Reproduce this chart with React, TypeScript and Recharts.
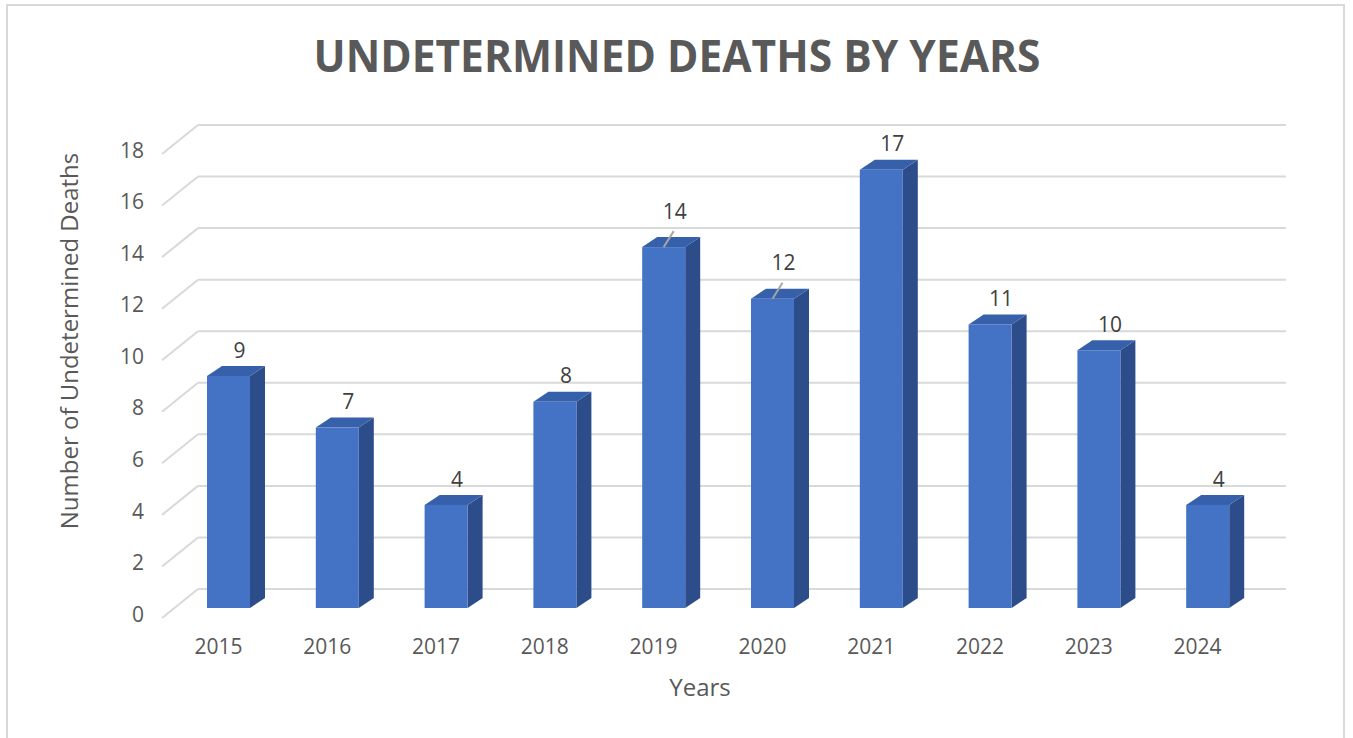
import { BarChart, Bar, XAxis, YAxis, CartesianGrid, LabelList } from "recharts";

const years = ["2015", "2016", "2017", "2018", "2019", "2020", "2021", "2022", "2023", "2024"];
const deaths = [9, 7, 4, 8, 14, 12, 17, 11, 10, 4];
const yTicks = [0, 2, 4, 6, 8, 10, 12, 14, 16, 18];
// labels that Excel pushed up and tied back with a leader line
const leaderYears = ["2019", "2020"];

const data = years.map((year, i) => ({ year, deaths: deaths[i] }));

const W = 1353;
const H = 738;
const FONT = "'Open Sans', sans-serif";
const TEXT = "#595959";
const GRID = "#D9D9D9";
const FRONT = "#4472C4";
const SIDE = "#2D4C8A";
const TOP = "#3760AA";

// 3d offsets relative to the plane the bars stand on
const DEPTH_X = 15; // bar depth
const DEPTH_Y = 10;
const BACK_X = 24; // back wall
const BACK_Y = 19;
const FRONT_X = -12; // front edge of floor
const FRONT_Y = 10;
const PLOT_LEFT = 174;
const PLOT_RIGHT = 1262;

function Bar3D(props: any) {
  const { x, y, width, height } = props;
  if (height <= 0) return null;
  const r = x + width;
  const b = y + height;
  return (
    <g>
      <polygon
        points={`${r},${y} ${r + DEPTH_X},${y - DEPTH_Y} ${r + DEPTH_X},${b - DEPTH_Y} ${r},${b}`}
        fill={SIDE}
      />
      <polygon
        points={`${x},${y} ${x + DEPTH_X},${y - DEPTH_Y} ${r + DEPTH_X},${y - DEPTH_Y} ${r},${y}`}
        fill={TOP}
      />
      <rect x={x} y={y} width={width} height={height} fill={FRONT} />
    </g>
  );
}

function GridLine(props: any) {
  const { y1, index } = props;
  const by = y1 - BACK_Y;
  return (
    <g key={`grid-${index}-${y1}`}>
      <line
        x1={PLOT_LEFT + FRONT_X}
        y1={y1 + FRONT_Y}
        x2={PLOT_LEFT + BACK_X}
        y2={by}
        stroke={GRID}
        strokeWidth={2}
      />
      <line
        x1={PLOT_LEFT + BACK_X}
        y1={by}
        x2={PLOT_RIGHT + BACK_X}
        y2={by}
        stroke={GRID}
        strokeWidth={2}
      />
    </g>
  );
}

function YTick(props: any) {
  const { y, payload } = props;
  return (
    <text
      x={PLOT_LEFT - 30}
      y={y + FRONT_Y - 2}
      textAnchor="end"
      dominantBaseline="middle"
      fontFamily={FONT}
      fontSize={21}
      fill={TEXT}
    >
      {payload.value}
    </text>
  );
}

function XTick(props: any) {
  const { x, y, payload } = props;
  return (
    <text
      x={x - 10}
      y={y + 38}
      textAnchor="middle"
      fontFamily={FONT}
      fontSize={21}
      fill={TEXT}
    >
      {payload.value}
    </text>
  );
}

function ValueLabel(props: any) {
  const { x, y, width, value, index } = props;
  const cx = x + width / 2;
  const lifted = leaderYears.includes(years[index]);
  const ty = lifted ? y - 34 : y - 24;
  return (
    <g>
      {lifted && (
        <line x1={cx + 10} y1={y - 16} x2={cx} y2={y} stroke="#A6A6A6" strokeWidth={2} />
      )}
      <text
        x={cx + 11}
        y={ty}
        textAnchor="middle"
        dominantBaseline="middle"
        fontFamily={FONT}
        fontSize={21}
        fill="#404040"
      >
        {value}
      </text>
    </g>
  );
}

export default function App() {
  return (
    <div style={{ position: "absolute", left: 0, top: 0, width: W, height: H, background: "#fff" }}>
      <div
        style={{
          position: "absolute",
          left: 6,
          top: 4,
          width: 1339,
          height: 740,
          border: `2px solid ${GRID}`,
          boxSizing: "border-box",
        }}
      />
      <BarChart
        width={W}
        height={H}
        data={data}
        margin={{ top: 144, right: W - PLOT_RIGHT, bottom: 0, left: 0 }}
      >
        <CartesianGrid horizontal={GridLine} vertical={false} />
        <XAxis
          dataKey="year"
          axisLine={false}
          tickLine={false}
          tick={XTick}
          height={130}
          interval={0}
        />
        <YAxis
          domain={[0, 18]}
          ticks={yTicks}
          axisLine={false}
          tickLine={false}
          tick={YTick}
          width={PLOT_LEFT}
        />
        <Bar dataKey="deaths" barSize={43} shape={Bar3D} isAnimationActive={false}>
          <LabelList dataKey="deaths" content={ValueLabel} />
        </Bar>
      </BarChart>
      <svg
        width={W}
        height={H}
        style={{ position: "absolute", left: 0, top: 0, pointerEvents: "none" }}
      >
        <text
          x={677}
          y={72}
          textAnchor="middle"
          fontFamily={FONT}
          fontWeight={700}
          fontSize={44}
          fill={TEXT}
          textLength={727}
          lengthAdjust="spacingAndGlyphs"
        >
          UNDETERMINED DEATHS BY YEARS
        </text>
        <text
          x={72}
          y={341}
          transform="rotate(-90 72 341)"
          textAnchor="middle"
          dominantBaseline="middle"
          fontFamily={FONT}
          fontSize={24}
          fill={TEXT}
        >
          Number of Undetermined Deaths
        </text>
        <text
          x={700}
          y={690}
          textAnchor="middle"
          dominantBaseline="middle"
          fontFamily={FONT}
          fontSize={24}
          fill={TEXT}
        >
          Years
        </text>
      </svg>
    </div>
  );
}
